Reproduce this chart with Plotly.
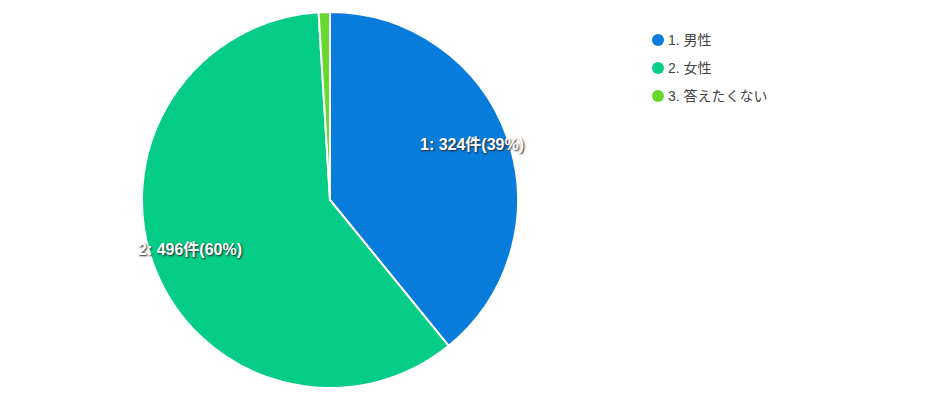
import math
import plotly.graph_objects as go

labels = ["1. 男性", "2. 女性", "3. 答えたくない"]
counts = [324, 496, 8]
colors = ["#087cdb", "#05cc86", "#66d82e"]

W, H = 943, 402
CX, CY, R = 330, 200, 188
FONT = "Arial, 'Liberation Sans', 'Noto Sans CJK JP', sans-serif"

total = sum(counts)

fig = go.Figure()
fig.add_trace(go.Pie(
    labels=labels, values=counts, sort=False, direction="clockwise", rotation=0,
    marker=dict(colors=colors, line=dict(color="white", width=2)),
    textinfo="none", hoverinfo="label+value+percent", showlegend=False,
    domain=dict(x=[(CX - R) / W, (CX + R) / W], y=[(H - CY - R) / H, (H - CY + R) / H]),
))

# slice labels, placed near 0.8 R along each slice's middle angle
annotations = []
start = 0.0
for i, v in enumerate(counts):
    frac = v / total
    mid = (start + frac / 2) * 2 * math.pi
    start += frac
    if frac < 0.05:
        continue
    px_ = CX + 0.8 * R * math.sin(mid)
    py_ = CY - 0.8 * R * math.cos(mid) - 5
    annotations.append(dict(
        x=px_ / W, y=1 - py_ / H, xref="paper", yref="paper", showarrow=False,
        xanchor="center", yanchor="middle",
        text=f"{i + 1}: {v}件({round(frac * 100)}%)",
        font=dict(family=FONT, size=16, color="white", weight="bold",
                  shadow="1px 1px 2px #222"),
    ))

# legend drawn by hand so the dots sit right next to the text
shapes = []
LX, LY, STEP, DOT = 658, 40, 28, 12
for i, (lab, col) in enumerate(zip(labels, colors)):
    y = LY + i * STEP
    shapes.append(dict(
        type="circle", xref="paper", yref="paper",
        x0=(LX - DOT / 2) / W, x1=(LX + DOT / 2) / W,
        y0=1 - (y + DOT / 2) / H, y1=1 - (y - DOT / 2) / H,
        fillcolor=col, line=dict(width=0),
    ))
    annotations.append(dict(
        x=(LX + 8) / W, y=1 - y / H, xref="paper", yref="paper",
        xanchor="left", yanchor="middle", showarrow=False, text=lab,
        font=dict(family=FONT, size=14, color="#444"),
    ))

fig.update_layout(
    width=W, height=H, margin=dict(l=0, r=0, t=0, b=0),
    paper_bgcolor="white", plot_bgcolor="white",
    showlegend=False,
    annotations=annotations, shapes=shapes,
    font=dict(family=FONT),
)

fig.write_html("out.html", config={"displayModeBar": False},
               post_script="document.body.style.margin='0';")
